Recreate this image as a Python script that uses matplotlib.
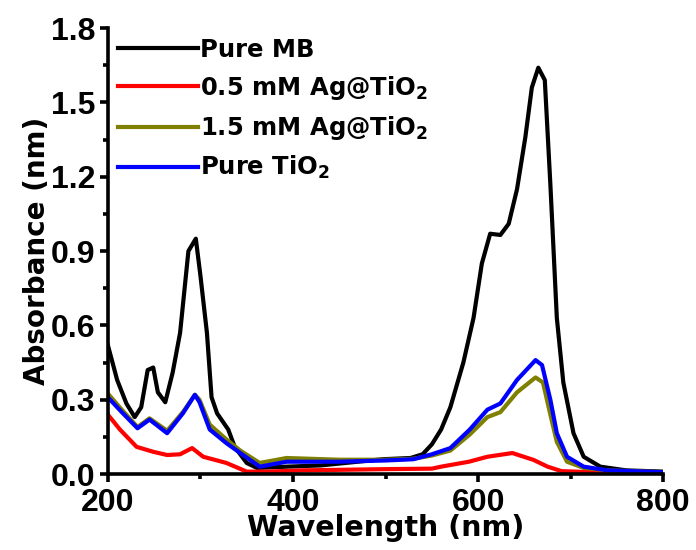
import matplotlib
matplotlib.use("Agg")
import matplotlib.pyplot as plt
from matplotlib.ticker import MultipleLocator, FormatStrFormatter

plt.rcParams['font.family'] = ['Liberation Sans', 'DejaVu Sans']
plt.rcParams['font.weight'] = 'bold'
plt.rcParams['mathtext.fontset'] = 'dejavusans'
plt.rcParams['mathtext.default'] = 'bf'

# Pure MB
mb_x = [200, 210, 220, 229, 236, 243, 249, 254, 262, 270, 278, 287, 295, 300, 307, 312, 318, 330,
        337, 350, 361, 393, 430, 470, 497, 527, 540, 550, 560, 570, 584, 595, 604, 613, 624, 633,
        642, 651, 658, 665, 672, 678, 685, 692, 703, 714, 732, 760, 800]
mb_y = [0.52, 0.38, 0.285, 0.23, 0.27, 0.42, 0.43, 0.33, 0.29, 0.41, 0.57, 0.90, 0.95, 0.80, 0.57,
        0.31, 0.245, 0.18, 0.11, 0.045, 0.025, 0.03, 0.035, 0.05, 0.06, 0.065, 0.08, 0.12, 0.18,
        0.27, 0.45, 0.63, 0.85, 0.97, 0.965, 1.01, 1.15, 1.36, 1.56, 1.64, 1.59, 1.17, 0.63, 0.37,
        0.165, 0.07, 0.03, 0.015, 0.01]

# 0.5 mM Ag@TiO2
ag05_x = [200, 213, 231, 249, 264, 278, 291, 303, 328, 350, 372, 410, 500, 550, 560, 590, 610,
          637, 660, 675, 690, 720, 800]
ag05_y = [0.24, 0.18, 0.11, 0.09, 0.077, 0.08, 0.105, 0.07, 0.045, 0.01, 0.01, 0.015, 0.02, 0.022,
          0.03, 0.05, 0.07, 0.085, 0.057, 0.03, 0.012, 0.008, 0.005]

# 1.5 mM Ag@TiO2
ag15_x = [200, 215, 232, 245, 264, 281, 294, 299, 310, 328, 343, 364, 393, 450, 500, 530, 550,
          570, 591, 610, 624, 642, 662, 670, 678, 685, 696, 714, 740, 800]
ag15_y = [0.325, 0.26, 0.19, 0.225, 0.175, 0.25, 0.32, 0.30, 0.20, 0.14, 0.095, 0.045, 0.065,
          0.058, 0.058, 0.062, 0.075, 0.095, 0.16, 0.23, 0.25, 0.33, 0.39, 0.37, 0.24, 0.13, 0.05,
          0.025, 0.015, 0.008]

# Pure TiO2
tio2_x = [200, 215, 232, 245, 264, 281, 294, 299, 310, 328, 343, 364, 393, 450, 500, 530, 550,
          570, 591, 610, 624, 642, 662, 669, 678, 685, 696, 714, 740, 800]
tio2_y = [0.31, 0.25, 0.185, 0.22, 0.165, 0.245, 0.32, 0.29, 0.18, 0.125, 0.085, 0.03, 0.05,
          0.05, 0.055, 0.06, 0.08, 0.105, 0.18, 0.26, 0.285, 0.38, 0.46, 0.44, 0.30, 0.165, 0.07,
          0.03, 0.015, 0.008]

labels = ['Pure MB', '0.5 mM Ag@TiO$_\\mathbf{2}$', '1.5 mM Ag@TiO$_\\mathbf{2}$',
          'Pure TiO$_\\mathbf{2}$']
colors = ['black', '#ff0000', '#808000', '#0000ff']

fig = plt.figure(figsize=(6.96, 5.50), dpi=100)
ax = fig.add_axes([0.155, 0.138, 0.798, 0.811])

lw = 3.0
ax.plot(mb_x, mb_y, color=colors[0], lw=lw, label=labels[0])
ax.plot(ag05_x, ag05_y, color=colors[1], lw=lw, label=labels[1])
ax.plot(ag15_x, ag15_y, color=colors[2], lw=lw, label=labels[2])
ax.plot(tio2_x, tio2_y, color=colors[3], lw=lw, label=labels[3])

ax.set_xlim(200, 800)
ax.set_ylim(0, 1.8)
ax.xaxis.set_major_locator(MultipleLocator(200))
ax.xaxis.set_minor_locator(MultipleLocator(100))
ax.yaxis.set_major_locator(MultipleLocator(0.3))
ax.yaxis.set_minor_locator(MultipleLocator(0.15))
ax.yaxis.set_major_formatter(FormatStrFormatter('%.1f'))

for s in ['top', 'right']:
    ax.spines[s].set_visible(False)
for s in ['left', 'bottom']:
    ax.spines[s].set_linewidth(2.6)

ax.tick_params(which='major', direction='out', length=6, width=2.6, labelsize=23)
ax.tick_params(axis='x', which='major', pad=4)
ax.tick_params(axis='y', which='major', pad=3)
ax.tick_params(which='minor', direction='out', length=3.5, width=2.6)

ax.set_xlabel('Wavelength (nm)', fontsize=20.5, fontweight='bold', family='DejaVu Sans',
              labelpad=-3)
ax.set_ylabel('Absorbance (nm)', fontsize=20, fontweight='bold', family='DejaVu Sans',
              labelpad=0)

leg = ax.legend(loc='upper left', bbox_to_anchor=(0.0, 1.0), frameon=False,
                prop={'family': 'DejaVu Sans', 'weight': 'bold', 'size': 17.5},
                handlelength=3.3, handletextpad=0.1, labelspacing=0.5,
                borderaxespad=0.3, borderpad=0.1)

fig.savefig('out.png', dpi=100)
